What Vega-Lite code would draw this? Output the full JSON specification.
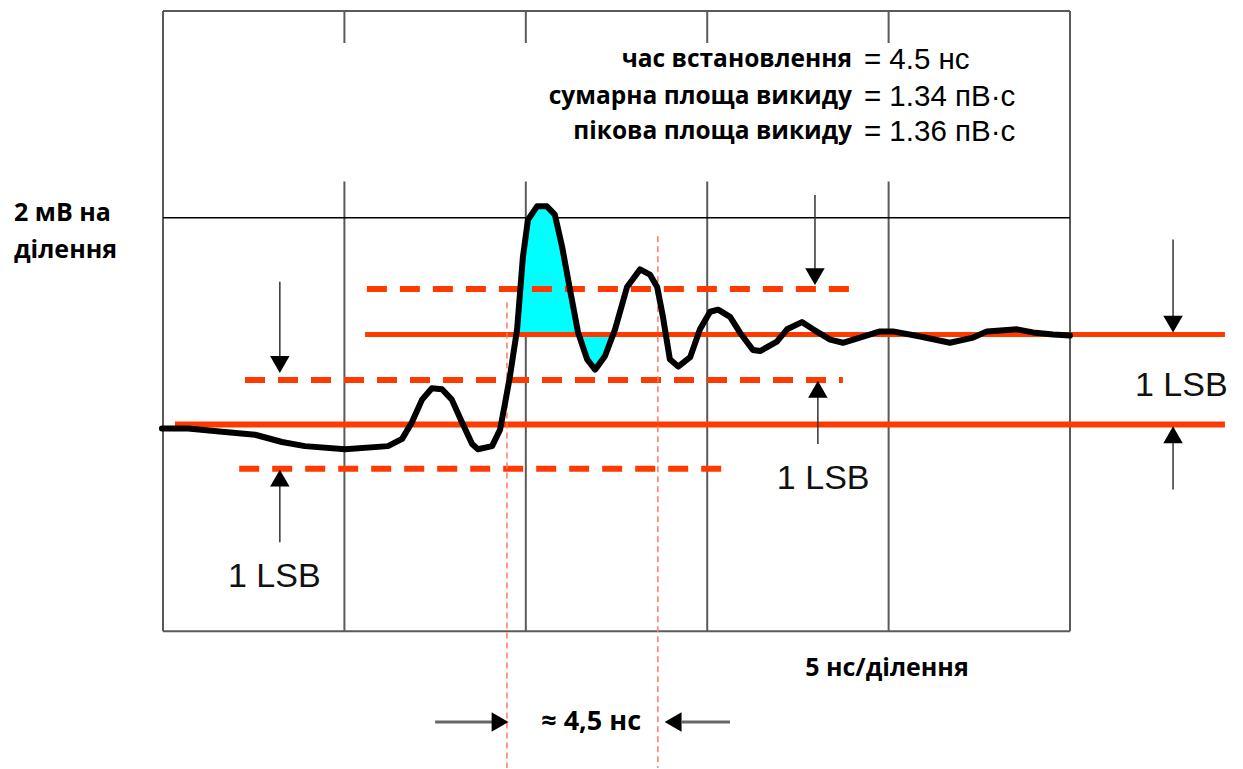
{
  "$schema": "https://vega.github.io/schema/vega-lite/v6.json",
  "width": 1243,
  "height": 769,
  "padding": 0,
  "autosize": {"type": "fit", "contains": "padding"},
  "background": "white",
  "config": {"view": {"stroke": null}},
  "layer": [
    {
      "data": {"values": [
        {"t": 0, "v": 0, "t2": 25, "v2": 0},
        {"t": 0, "v": 6, "t2": 25, "v2": 6},
        {"t": 0, "v": 0, "t2": 0, "v2": 6},
        {"t": 25, "v": 0, "t2": 25, "v2": 6},
        {"t": 5, "v": 0, "t2": 5, "v2": 4.35},
        {"t": 10, "v": 0, "t2": 10, "v2": 4.35},
        {"t": 15, "v": 0, "t2": 15, "v2": 4.35},
        {"t": 20, "v": 0, "t2": 20, "v2": 4.35},
        {"t": 5, "v": 5.69, "t2": 5, "v2": 6},
        {"t": 10, "v": 5.69, "t2": 10, "v2": 6},
        {"t": 15, "v": 5.69, "t2": 15, "v2": 6},
        {"t": 20, "v": 5.69, "t2": 20, "v2": 6}
      ]},
      "mark": {"type": "rule", "color": "#5a5a5a", "strokeWidth": 2},
      "encoding": {
        "x": {"field": "t", "type": "quantitative", "scale": {"domain": [-4.493, 29.768], "nice": false, "zero": false}, "axis": null},
        "y": {"field": "v", "type": "quantitative", "scale": {"domain": [-1.324, 6.106], "nice": false, "zero": false}, "axis": null},
        "x2": {"field": "t2"},
        "y2": {"field": "v2"}
      }
    },
    {
      "data": {"values": [{"t": 0, "v": 4, "t2": 25, "v2": 4}]},
      "mark": {"type": "rule", "color": "#000000", "strokeWidth": 1.5},
      "encoding": {
        "x": {"field": "t", "type": "quantitative", "scale": {"domain": [-4.493, 29.768], "nice": false, "zero": false}, "axis": null},
        "y": {"field": "v", "type": "quantitative", "scale": {"domain": [-1.324, 6.106], "nice": false, "zero": false}, "axis": null},
        "x2": {"field": "t2"},
        "y2": {"field": "v2"}
      }
    },
    {
      "data": {"values": [
        {"t": 9.74, "v": 2.87}, {"t": 9.76, "v": 2.92}, {"t": 9.92, "v": 3.62}, {"t": 10.06, "v": 3.98},
        {"t": 10.31, "v": 4.11}, {"t": 10.58, "v": 4.11}, {"t": 10.80, "v": 4.03}, {"t": 11.00, "v": 3.72},
        {"t": 11.22, "v": 3.30}, {"t": 11.44, "v": 2.89}, {"t": 11.69, "v": 2.63}, {"t": 11.91, "v": 2.53},
        {"t": 12.18, "v": 2.66}, {"t": 12.38, "v": 2.87}
      ]},
      "mark": {"type": "area", "color": "#00FFFF", "opacity": 1},
      "encoding": {
        "x": {"field": "t", "type": "quantitative", "scale": {"domain": [-4.493, 29.768], "nice": false, "zero": false}, "axis": null},
        "y": {"field": "v", "type": "quantitative", "scale": {"domain": [-1.324, 6.106], "nice": false, "zero": false}, "axis": null},
        "y2": {"datum": 2.87}
      }
    },
    {
      "data": {"values": [
        {"t": 0.33, "v": 2.0, "t2": 29.27, "v2": 2.0}
      ]},
      "mark": {"type": "rule", "color": "#FF3A00", "strokeWidth": 6},
      "encoding": {
        "x": {"field": "t", "type": "quantitative", "scale": {"domain": [-4.493, 29.768], "nice": false, "zero": false}, "axis": null},
        "y": {"field": "v", "type": "quantitative", "scale": {"domain": [-1.324, 6.106], "nice": false, "zero": false}, "axis": null},
        "x2": {"field": "t2"},
        "y2": {"field": "v2"}
      }
    },
    {
      "data": {"values": [
        {"t": 5.57, "v": 2.87, "t2": 29.27, "v2": 2.87}
      ]},
      "mark": {"type": "rule", "color": "#FF3A00", "strokeWidth": 5},
      "encoding": {
        "x": {"field": "t", "type": "quantitative", "scale": {"domain": [-4.493, 29.768], "nice": false, "zero": false}, "axis": null},
        "y": {"field": "v", "type": "quantitative", "scale": {"domain": [-1.324, 6.106], "nice": false, "zero": false}, "axis": null},
        "x2": {"field": "t2"},
        "y2": {"field": "v2"}
      }
    },
    {
      "data": {"values": [
        {"t": 5.62, "v": 3.31, "t2": 18.99, "v2": 3.31},
        {"t": 2.26, "v": 2.43, "t2": 18.74, "v2": 2.43},
        {"t": 2.10, "v": 1.57, "t2": 15.55, "v2": 1.57}
      ]},
      "mark": {"type": "rule", "color": "#FF3A00", "strokeWidth": 6, "strokeDash": [20, 13]},
      "encoding": {
        "x": {"field": "t", "type": "quantitative", "scale": {"domain": [-4.493, 29.768], "nice": false, "zero": false}, "axis": null},
        "y": {"field": "v", "type": "quantitative", "scale": {"domain": [-1.324, 6.106], "nice": false, "zero": false}, "axis": null},
        "x2": {"field": "t2"},
        "y2": {"field": "v2"}
      }
    },
    {
      "data": {"values": [
        {"t": 9.48, "v": 3.18, "t2": 9.48, "v2": -1.324},
        {"t": 13.64, "v": 3.82, "t2": 13.64, "v2": -1.324}
      ]},
      "mark": {"type": "rule", "color": "#FF7A60", "strokeWidth": 1.5, "strokeDash": [6, 4]},
      "encoding": {
        "x": {"field": "t", "type": "quantitative", "scale": {"domain": [-4.493, 29.768], "nice": false, "zero": false}, "axis": null},
        "y": {"field": "v", "type": "quantitative", "scale": {"domain": [-1.324, 6.106], "nice": false, "zero": false}, "axis": null},
        "x2": {"field": "t2"},
        "y2": {"field": "v2"}
      }
    },
    {
      "data": {"values": [
        {"t": -0.03, "v": 1.96}, {"t": 0.69, "v": 1.96}, {"t": 1.63, "v": 1.93}, {"t": 2.54, "v": 1.90},
        {"t": 3.28, "v": 1.83}, {"t": 3.91, "v": 1.79}, {"t": 5.02, "v": 1.76}, {"t": 6.20, "v": 1.79},
        {"t": 6.59, "v": 1.86}, {"t": 6.86, "v": 2.02}, {"t": 7.14, "v": 2.24}, {"t": 7.41, "v": 2.35},
        {"t": 7.69, "v": 2.34}, {"t": 7.96, "v": 2.24}, {"t": 8.24, "v": 2.02}, {"t": 8.52, "v": 1.81},
        {"t": 8.68, "v": 1.76}, {"t": 9.07, "v": 1.79}, {"t": 9.29, "v": 1.95}, {"t": 9.43, "v": 2.21},
        {"t": 9.56, "v": 2.46}, {"t": 9.76, "v": 2.92}, {"t": 9.92, "v": 3.62}, {"t": 10.06, "v": 3.98},
        {"t": 10.31, "v": 4.11}, {"t": 10.58, "v": 4.11}, {"t": 10.80, "v": 4.03}, {"t": 11.00, "v": 3.72},
        {"t": 11.22, "v": 3.30}, {"t": 11.44, "v": 2.89}, {"t": 11.69, "v": 2.63}, {"t": 11.91, "v": 2.53},
        {"t": 12.18, "v": 2.66}, {"t": 12.46, "v": 2.92}, {"t": 12.79, "v": 3.33}, {"t": 13.15, "v": 3.50},
        {"t": 13.42, "v": 3.45}, {"t": 13.62, "v": 3.33}, {"t": 13.78, "v": 3.04}, {"t": 13.97, "v": 2.63},
        {"t": 14.20, "v": 2.56}, {"t": 14.53, "v": 2.65}, {"t": 14.80, "v": 2.92}, {"t": 15.08, "v": 3.09},
        {"t": 15.30, "v": 3.11}, {"t": 15.63, "v": 3.04}, {"t": 15.90, "v": 2.89}, {"t": 16.26, "v": 2.72},
        {"t": 16.46, "v": 2.71}, {"t": 16.92, "v": 2.80}, {"t": 17.20, "v": 2.92}, {"t": 17.61, "v": 2.99},
        {"t": 17.92, "v": 2.92}, {"t": 18.39, "v": 2.82}, {"t": 18.74, "v": 2.79}, {"t": 19.21, "v": 2.84},
        {"t": 19.76, "v": 2.90}, {"t": 20.12, "v": 2.90}, {"t": 20.87, "v": 2.85}, {"t": 21.69, "v": 2.79},
        {"t": 22.33, "v": 2.84}, {"t": 22.71, "v": 2.90}, {"t": 23.54, "v": 2.92}, {"t": 23.98, "v": 2.89},
        {"t": 24.53, "v": 2.87}, {"t": 25.00, "v": 2.86}
      ]},
      "mark": {"type": "line", "color": "#000000", "strokeWidth": 6, "strokeJoin": "round", "strokeCap": "round"},
      "encoding": {
        "x": {"field": "t", "type": "quantitative", "scale": {"domain": [-4.493, 29.768], "nice": false, "zero": false}, "axis": null},
        "y": {"field": "v", "type": "quantitative", "scale": {"domain": [-1.324, 6.106], "nice": false, "zero": false}, "axis": null}
      }
    },
    {
      "data": {"values": [
        {"t": 3.22, "v": 3.38, "t2": 3.22, "v2": 2.6},
        {"t": 3.22, "v": 0.86, "t2": 3.22, "v2": 1.45},
        {"t": 17.97, "v": 4.22, "t2": 17.97, "v2": 3.45},
        {"t": 18.05, "v": 1.81, "t2": 18.05, "v2": 2.3},
        {"t": 27.84, "v": 3.79, "t2": 27.84, "v2": 3.0},
        {"t": 27.84, "v": 1.37, "t2": 27.84, "v2": 1.9}
      ]},
      "mark": {"type": "rule", "color": "#333333", "strokeWidth": 1.5},
      "encoding": {
        "x": {"field": "t", "type": "quantitative", "scale": {"domain": [-4.493, 29.768], "nice": false, "zero": false}, "axis": null},
        "y": {"field": "v", "type": "quantitative", "scale": {"domain": [-1.324, 6.106], "nice": false, "zero": false}, "axis": null},
        "x2": {"field": "t2"},
        "y2": {"field": "v2"}
      }
    },
    {
      "data": {"values": [
        {"t": 7.50, "v": -0.88, "t2": 9.1, "v2": -0.88},
        {"t": 14.3, "v": -0.88, "t2": 15.63, "v2": -0.88}
      ]},
      "mark": {"type": "rule", "color": "#666666", "strokeWidth": 3},
      "encoding": {
        "x": {"field": "t", "type": "quantitative", "scale": {"domain": [-4.493, 29.768], "nice": false, "zero": false}, "axis": null},
        "y": {"field": "v", "type": "quantitative", "scale": {"domain": [-1.324, 6.106], "nice": false, "zero": false}, "axis": null},
        "x2": {"field": "t2"},
        "y2": {"field": "v2"}
      }
    },
    {
      "data": {"values": [
        {"t": 3.22, "v": 2.58, "dir": "down"},
        {"t": 3.22, "v": 1.48, "dir": "up"},
        {"t": 17.97, "v": 3.43, "dir": "down"},
        {"t": 18.05, "v": 2.34, "dir": "up"},
        {"t": 27.84, "v": 2.97, "dir": "down"},
        {"t": 27.84, "v": 1.90, "dir": "up"},
        {"t": 9.29, "v": -0.88, "dir": "right"},
        {"t": 14.06, "v": -0.88, "dir": "left"}
      ]},
      "mark": {"type": "point", "filled": true, "color": "#000000", "opacity": 1, "size": 380},
      "encoding": {
        "x": {"field": "t", "type": "quantitative", "scale": {"domain": [-4.493, 29.768], "nice": false, "zero": false}, "axis": null},
        "y": {"field": "v", "type": "quantitative", "scale": {"domain": [-1.324, 6.106], "nice": false, "zero": false}, "axis": null},
        "shape": {"field": "dir", "type": "nominal", "scale": {"domain": ["down", "up", "right", "left"], "range": ["triangle-down", "triangle-up", "triangle-right", "triangle-left"]}, "legend": null}
      }
    },
    {
      "data": {"values": [
        {"t": 18.99, "v": 5.53, "label": "час встановлення"},
        {"t": 18.99, "v": 5.17, "label": "сумарна площа викиду"},
        {"t": 18.99, "v": 4.83, "label": "пікова площа викиду"}
      ]},
      "mark": {"type": "text", "align": "right", "baseline": "middle", "font": "Open Sans", "fontWeight": "bold", "fontSize": 24.5, "color": "#000000"},
      "encoding": {
        "x": {"field": "t", "type": "quantitative", "scale": {"domain": [-4.493, 29.768], "nice": false, "zero": false}, "axis": null},
        "y": {"field": "v", "type": "quantitative", "scale": {"domain": [-1.324, 6.106], "nice": false, "zero": false}, "axis": null},
        "text": {"field": "label"}
      }
    },
    {
      "data": {"values": [
        {"t": 19.32, "v": 5.53, "label": "= 4.5 нс"},
        {"t": 19.32, "v": 5.17, "label": "= 1.34 пВ·с"},
        {"t": 19.32, "v": 4.83, "label": "= 1.36 пВ·с"}
      ]},
      "mark": {"type": "text", "align": "left", "baseline": "middle", "font": "Liberation Sans", "fontSize": 29.5, "color": "#000000"},
      "encoding": {
        "x": {"field": "t", "type": "quantitative", "scale": {"domain": [-4.493, 29.768], "nice": false, "zero": false}, "axis": null},
        "y": {"field": "v", "type": "quantitative", "scale": {"domain": [-1.324, 6.106], "nice": false, "zero": false}, "axis": null},
        "text": {"field": "label"}
      }
    },
    {
      "data": {"values": [
        {"t": -4.107, "v": 4.05, "label": "2 мВ на"},
        {"t": -4.107, "v": 3.69, "label": "ділення"},
        {"t": 17.70, "v": -0.357, "label": "5 нс/ділення"}
      ]},
      "mark": {"type": "text", "align": "left", "baseline": "middle", "font": "Open Sans", "fontWeight": "bold", "fontSize": 25, "color": "#000000"},
      "encoding": {
        "x": {"field": "t", "type": "quantitative", "scale": {"domain": [-4.493, 29.768], "nice": false, "zero": false}, "axis": null},
        "y": {"field": "v", "type": "quantitative", "scale": {"domain": [-1.324, 6.106], "nice": false, "zero": false}, "axis": null},
        "text": {"field": "label"}
      }
    },
    {
      "data": {"values": [
        {"t": 11.80, "v": -0.88, "label": "≈  4,5 нс"}
      ]},
      "mark": {"type": "text", "align": "center", "baseline": "middle", "font": "Open Sans", "fontWeight": "bold", "fontSize": 27, "color": "#000000"},
      "encoding": {
        "x": {"field": "t", "type": "quantitative", "scale": {"domain": [-4.493, 29.768], "nice": false, "zero": false}, "axis": null},
        "y": {"field": "v", "type": "quantitative", "scale": {"domain": [-1.324, 6.106], "nice": false, "zero": false}, "axis": null},
        "text": {"field": "label"}
      }
    },
    {
      "data": {"values": [
        {"t": 26.79, "v": 2.37, "label": "1 LSB"},
        {"t": 16.92, "v": 1.47, "label": "1 LSB"},
        {"t": 1.79, "v": 0.52, "label": "1 LSB"}
      ]},
      "mark": {"type": "text", "align": "left", "baseline": "middle", "font": "Liberation Sans", "fontSize": 34, "color": "#111111"},
      "encoding": {
        "x": {"field": "t", "type": "quantitative", "scale": {"domain": [-4.493, 29.768], "nice": false, "zero": false}, "axis": null},
        "y": {"field": "v", "type": "quantitative", "scale": {"domain": [-1.324, 6.106], "nice": false, "zero": false}, "axis": null},
        "text": {"field": "label"}
      }
    }
  ]
}
